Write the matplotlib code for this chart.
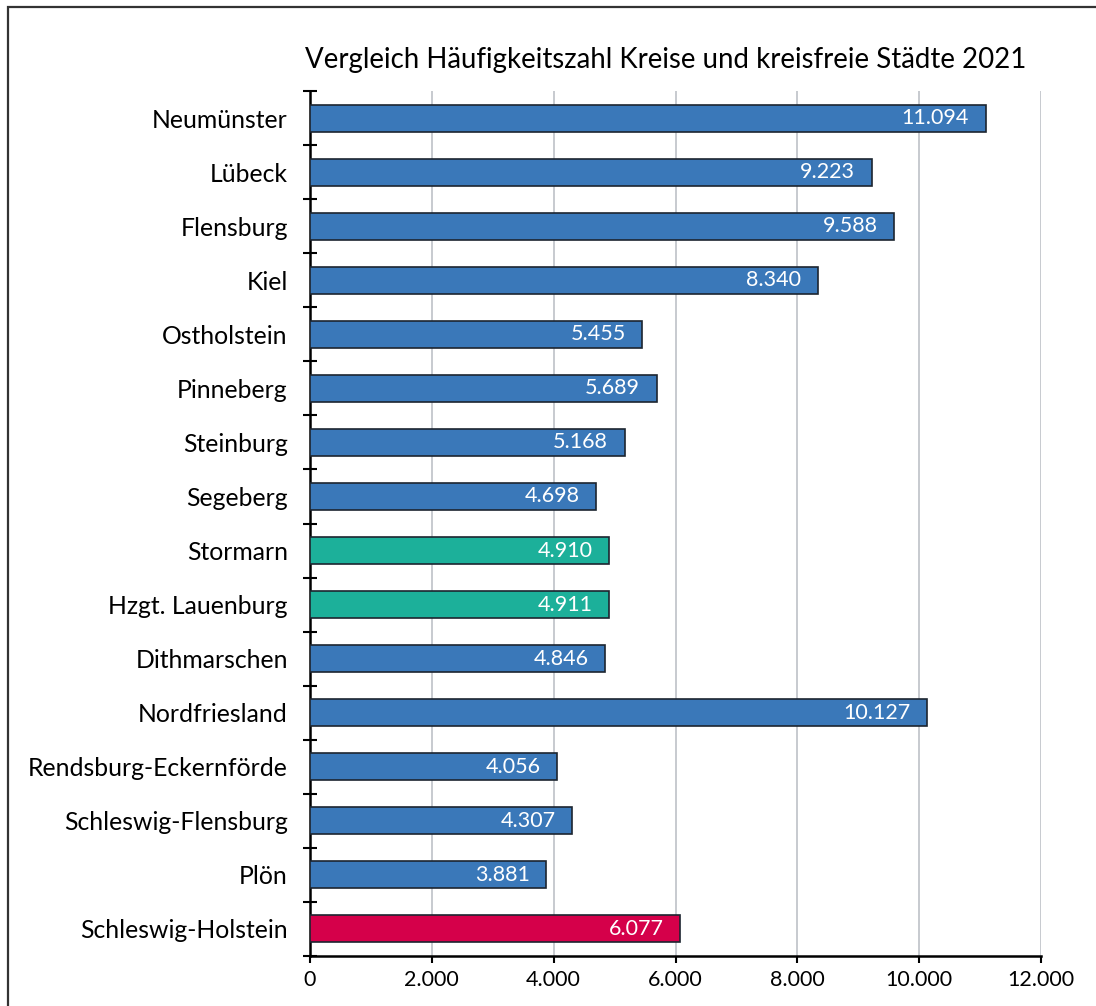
import matplotlib.pyplot as plt
from matplotlib.patches import Rectangle
from matplotlib.ticker import FuncFormatter

plt.rcParams["font.family"] = ["Lato", "DejaVu Sans"]

kreise = [
    "Neumünster", "Lübeck", "Flensburg", "Kiel", "Ostholstein", "Pinneberg",
    "Steinburg", "Segeberg", "Stormarn", "Hzgt. Lauenburg", "Dithmarschen",
    "Nordfriesland", "Rendsburg-Eckernförde", "Schleswig-Flensburg", "Plön",
    "Schleswig-Holstein",
]
haeufigkeitszahl = [
    11094, 9223, 9588, 8340, 5455, 5689, 5168, 4698,
    4910, 4911, 4846, 10127, 4056, 4307, 3881, 6077,
]
gruppe = ["kreis"] * 8 + ["hamburg_rand"] * 2 + ["kreis"] * 5 + ["land"]
farben = {"kreis": "#3a78b9", "hamburg_rand": "#1cb09a", "land": "#d5004a"}


def de_format(v, _pos=None):
    return f"{int(v):,}".replace(",", ".")


fig = plt.figure(figsize=(10.96, 10.06), dpi=100)
ax = fig.add_axes([310 / 1096, 1 - 956 / 1006, 731 / 1096, 865 / 1006])

ypos = list(range(len(kreise)))
ax.barh(ypos, haeufigkeitszahl, height=0.5,
        color=[farben[g] for g in gruppe], edgecolor="#1c2530", linewidth=1.2,
        zorder=3)

for y, v in zip(ypos, haeufigkeitszahl):
    ax.annotate(de_format(v), (v, y), xytext=(-12, 0), textcoords="offset points",
                ha="right", va="center", color="white", fontsize=15.5, zorder=4)

ax.set_xlim(0, 12000)
ax.set_ylim(len(kreise) - 0.5, -0.5)
ax.set_xticks(range(0, 12001, 2000))
ax.xaxis.set_major_formatter(FuncFormatter(de_format))
ax.tick_params(axis="x", direction="out", length=5, width=1.5, labelsize=15.5,
               pad=5, color="black")

# category boundaries carry the tick marks, names sit at the bar centres
ax.set_yticks([i - 0.5 for i in range(len(kreise) + 1)])
ax.set_yticklabels([])
ax.tick_params(axis="y", which="major", direction="inout", length=10, width=1.5)
ax.set_yticks(ypos, minor=True)
ax.set_yticklabels(kreise, minor=True, fontsize=17.8)
ax.tick_params(axis="y", which="minor", length=0, pad=16)

ax.grid(axis="x", color="#b8bcc2", linewidth=1.1, zorder=0)
for side in ("top", "right"):
    ax.spines[side].set_visible(False)
for side in ("left", "bottom"):
    ax.spines[side].set_linewidth(1.8)

fig.text(666 / 1096, 1 - 60 / 1006,
         "Vergleich Häufigkeitszahl Kreise und kreisfreie Städte 2021",
         ha="center", va="center", fontsize=19.9)

# outer frame, running past the right and bottom edge
fig.patches.append(Rectangle((8 / 1096, -0.1), 1.2, 1 - 7 / 1006 + 0.1,
                             transform=fig.transFigure, fill=False,
                             edgecolor="#333333", linewidth=1.6))

fig.savefig("out.png", dpi=100)
